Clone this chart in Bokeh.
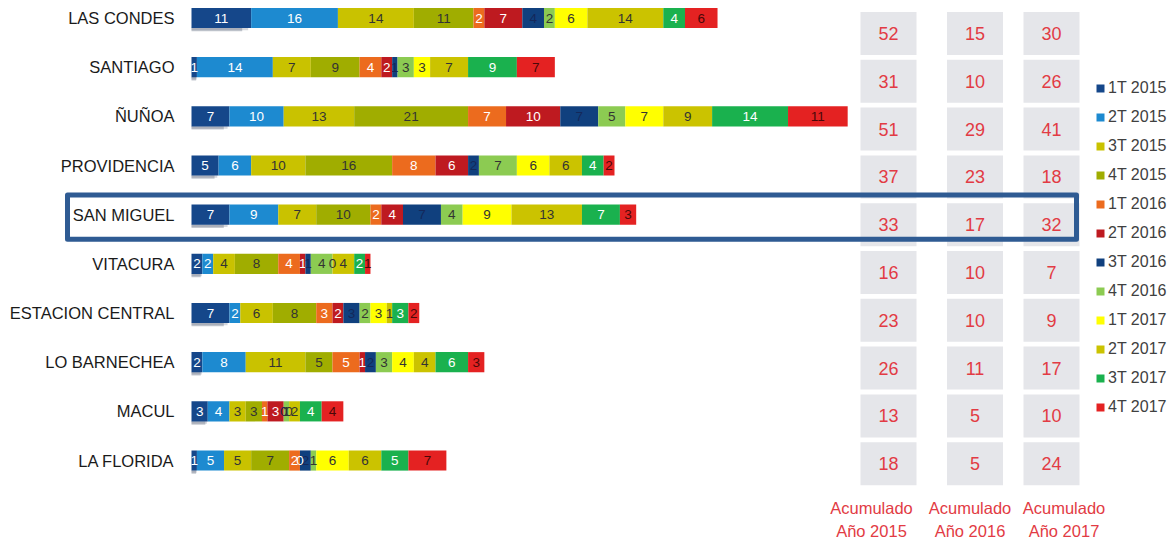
from bokeh.plotting import figure
from bokeh.models import (ColumnDataSource, Range1d, Legend, LegendItem)
from bokeh.core.properties import value
from bokeh.embed import file_html
from bokeh.resources import INLINE

# ---------------- data ----------------
comunas = ["LAS CONDES", "SANTIAGO", "ÑUÑOA", "PROVIDENCIA", "SAN MIGUEL",
           "VITACURA", "ESTACION CENTRAL", "LO BARNECHEA", "MACUL", "LA FLORIDA"]
trimestres = ["1T 2015", "2T 2015", "3T 2015", "4T 2015",
              "1T 2016", "2T 2016", "3T 2016", "4T 2016",
              "1T 2017", "2T 2017", "3T 2017", "4T 2017"]
t1_2015 = [11, 1, 7, 5, 7, 2, 7, 2, 3, 1]
t2_2015 = [16, 14, 10, 6, 9, 2, 2, 8, 4, 5]
t3_2015 = [14, 7, 13, 10, 7, 4, 6, 11, 3, 5]
t4_2015 = [11, 9, 21, 16, 10, 8, 8, 5, 3, 7]
t1_2016 = [2, 4, 7, 8, 2, 4, 3, 5, 1, 2]
t2_2016 = [7, 2, 10, 6, 4, 1, 2, 1, 3, 0]
t3_2016 = [4, 1, 7, 2, 7, 1, 3, 2, 0, 2]
t4_2016 = [2, 3, 5, 7, 4, 4, 2, 3, 1, 1]
t1_2017 = [6, 3, 7, 6, 9, 0, 3, 4, 0, 6]
t2_2017 = [14, 7, 9, 6, 13, 4, 1, 4, 2, 6]
t3_2017 = [4, 9, 14, 4, 7, 2, 3, 6, 4, 5]
t4_2017 = [6, 7, 11, 2, 3, 1, 2, 3, 4, 7]
acum_2015 = [52, 31, 51, 37, 33, 16, 23, 26, 13, 18]
acum_2016 = [15, 10, 29, 23, 17, 10, 10, 11, 5, 5]
acum_2017 = [30, 26, 41, 18, 32, 7, 9, 17, 10, 24]
acum_titulos = ["Acumulado", "Acumulado", "Acumulado"]
acum_anios = ["Año 2015", "Año 2016", "Año 2017"]
destacada = "SAN MIGUEL"

series = [t1_2015, t2_2015, t3_2015, t4_2015, t1_2016, t2_2016,
          t3_2016, t4_2016, t1_2017, t2_2017, t3_2017, t4_2017]
acumulados = [acum_2015, acum_2016, acum_2017]

# ---------------- styles / layout ----------------
COLORS = ["#15478a", "#1d8ad0", "#c9c200", "#a0ad00", "#ec6b1e", "#be1a20",
          "#10407e", "#8ccb52", "#ffff00", "#cbc300", "#1ab14e", "#e42222"]
LABEL_COLORS = ["#ffffff", "#ffffff", "#333333", "#333333", "#ffffff", "#ffffff",
                "#14285a", "#333333", "#333333", "#333333", "#ffffff", "#4a0808"]
FONT_NAME = "Liberation Sans"
FONT = value(FONT_NAME)
RED = "#e23b44"
W, H = 1176, 542
PX_PER_UNIT = 5.423
BAR_X0 = 191
ROW0, ROW_STEP = 17.5, 49.17
TAB0, TAB_STEP = 33.0, 47.8
TAB_COL_X = [888, 974.5, 1051]
TAB_LABEL_X = [871, 969.5, 1063.5]
CAT_LABEL_X = 174

p = figure(width=W, height=H, output_backend="svg", toolbar_location=None,
           min_border=0, outline_line_color=None,
           x_range=Range1d(-BAR_X0 / PX_PER_UNIT, (W - BAR_X0) / PX_PER_UNIT),
           y_range=Range1d(-ROW0 / ROW_STEP + H / ROW_STEP, -ROW0 / ROW_STEP))
p.xaxis.visible = False
p.yaxis.visible = False
p.grid.visible = False
p.background_fill_color = "white"
p.border_fill_color = "white"
p.extra_x_ranges = {"px": Range1d(0, W)}
p.extra_y_ranges = {"px": Range1d(H, 0),
                    "tab": Range1d(-TAB0 / TAB_STEP + H / TAB_STEP, -TAB0 / TAB_STEP)}

# ---------------- stacked bars ----------------
ys = list(range(len(comunas)))
data = {"y": ys, "comuna": comunas}
for name, s in zip(trimestres, series):
    data[name] = s
src = ColumnDataSource(data)

# soft shadow under the first segment
p.hbar(y=[y + 0.235 for y in ys], left=0, right=[v * 0.85 for v in t1_2015],
       height=0.07, fill_color="#5a6478", fill_alpha=0.35, line_color=None)
p.hbar(y=[y + 0.225 for y in ys], left=0, right=[v * 0.95 for v in t1_2015],
       height=0.05, fill_color="#5a6478", fill_alpha=0.25, line_color=None)

renderers = p.hbar_stack(trimestres, y="y", height=0.41, color=COLORS,
                         line_color=None, source=src)

# labels inside segments
lx, ly, lt, lc = [], [], [], []
for i in range(len(comunas)):
    left = 0
    for k, s in enumerate(series):
        v = s[i]
        lx.append(left + v / 2)
        ly.append(i)
        lt.append(str(v))
        lc.append(LABEL_COLORS[k])
        left += v
p.text(x=lx, y=ly, text=lt, text_color=lc, text_font=FONT,
       text_font_size="13.5px", text_align="center", text_baseline="middle")

# category labels
p.text(x=[CAT_LABEL_X] * len(comunas), y=ys, text=comunas, x_range_name="px",
       text_font=FONT, text_font_size="16.5px", text_color="#1a1a1a",
       text_align="right", text_baseline="middle")

# ---------------- accumulated table ----------------
for j, acc in enumerate(acumulados):
    p.rect(x=[TAB_COL_X[j]] * len(comunas), y=ys, width=56, height=0.9,
           x_range_name="px", y_range_name="tab",
           fill_color="#e5e6ea", line_color=None)
    p.text(x=[TAB_COL_X[j]] * len(comunas), y=ys, text=[str(v) for v in acc],
           x_range_name="px", y_range_name="tab",
           text_font=FONT, text_font_size="18px", text_color=RED,
           text_align="center", text_baseline="middle")

p.text(x=TAB_LABEL_X, y=[507] * 3, text=acum_titulos, x_range_name="px",
       y_range_name="px", text_font=FONT, text_font_size="16.5px",
       text_color=RED, text_align="center", text_baseline="middle")
p.text(x=TAB_LABEL_X, y=[530] * 3, text=acum_anios, x_range_name="px",
       y_range_name="px", text_font=FONT, text_font_size="16.5px",
       text_color=RED, text_align="center", text_baseline="middle")

# ---------------- highlight box ----------------
hi = comunas.index(destacada)
p.quad(left=[67], right=[1076], top=[hi - 0.40], bottom=[hi + 0.50],
       x_range_name="px", fill_color=None, line_color="#2f5b93", line_width=5,
       line_join="round")

# ---------------- legend ----------------
items = [LegendItem(label=t, renderers=[r]) for t, r in zip(trimestres, renderers)]
legend = Legend(items=items, location=(1095, 125), orientation="vertical",
                glyph_width=10, glyph_height=10, label_standoff=3,
                label_height=20, spacing=9, padding=0, margin=0,
                border_line_color=None, background_fill_alpha=0,
                label_text_font=FONT_NAME, label_text_font_size="16px",
                label_text_color="#404040", label_text_baseline="middle")
p.add_layout(legend, "center")

open("out.html", "w").write(file_html(p, INLINE))
